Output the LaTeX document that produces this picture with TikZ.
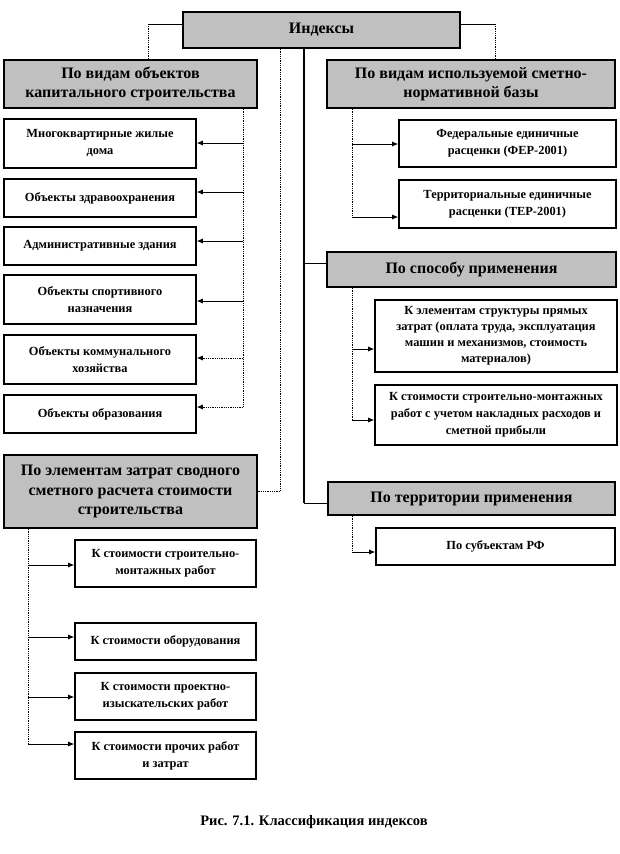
\documentclass[tikz,border=0pt]{standalone}
\usepackage{fontspec}
\setmainfont{Liberation Serif}
\usetikzlibrary{arrows.meta,shadows}
\definecolor{hdrgray}{RGB}{192,192,192}
\tikzset{
 box/.style={draw, line width=1.6pt, align=center, inner sep=1pt, fill=white,
   font=\bfseries\fontsize{12.4}{17}\selectfont,
   drop shadow={shadow xshift=1.3pt, shadow yshift=-1.3pt, fill=black!50, opacity=1}},
 hdr/.style={box, fill=hdrgray, font=\bfseries\fontsize{16}{19.5}\selectfont},
 conn/.style={line width=0.8pt},
 dconn/.style={line width=0.8pt, densely dotted},
 arr/.style={conn, -{Latex[length=6pt,width=5pt]}},
 darr/.style={dconn, -{Latex[length=6pt,width=5pt]}},
}
\begin{document}
\begin{tikzpicture}[x=1pt,y=-1pt]
\useasboundingbox (0,0) rectangle (620,854);
% top
\node[hdr, minimum width=277pt, minimum height=36pt] (idx) at (321.5,30) {Индексы};
% left header and children
\node[hdr, minimum width=253pt, minimum height=48pt] (h1) at (130.5,84) {По видам объектов\\капитального строительства};
\node[box, minimum width=192pt, minimum height=49pt] (l1) at (100,143.5) {Многоквартирные жилые\\дома};
\node[box, minimum width=192pt, minimum height=38pt] (l2) at (100,198) {Объекты здравоохранения};
\node[box, minimum width=192pt, minimum height=38pt] (l3) at (100,246) {Административные здания};
\node[box, minimum width=192pt, minimum height=49pt] (l4) at (100,299.5) {Объекты спортивного\\назначения};
\node[box, minimum width=192pt, minimum height=49pt] (l5) at (100,359.5) {Объекты коммунального\\хозяйства};
\node[box, minimum width=192pt, minimum height=38pt] (l6) at (100,414) {Объекты образования};
% right header and children
\node[hdr, minimum width=288pt, minimum height=48pt] (h2) at (471,84) {По видам используемой сметно-\\нормативной базы};
\node[box, minimum width=217pt, minimum height=47pt] (r1) at (507.5,143.5) {Федеральные единичные\\расценки (ФЕР-2001)};
\node[box, minimum width=217pt, minimum height=48pt] (r2) at (507.5,204) {Территориальные единичные\\расценки (ТЕР-2001)};
\node[hdr, minimum width=289pt, minimum height=35pt] (h3) at (471.5,269.5) {По способу применения};
\node[box, minimum width=242pt, minimum height=72pt, font=\bfseries\fontsize{12.4}{16}\selectfont] (r3) at (496,336) {К элементам структуры прямых\\затрат (оплата труда, эксплуатация\\машин и механизмов, стоимость\\материалов)};
\node[box, minimum width=242pt, minimum height=60pt] (r4) at (496,415) {К стоимости строительно-монтажных\\работ с учетом накладных расходов и\\сметной прибыли};
\node[hdr, minimum width=287pt, minimum height=33pt] (h4) at (471.5,498.5) {По территории применения};
\node[box, minimum width=239pt, minimum height=37pt] (r5) at (495.5,546.5) {По субъектам РФ};
% bottom-left header and children
\node[hdr, minimum width=253pt, minimum height=73pt] (h5) at (130.5,491.5) {По элементам затрат сводного\\сметного расчета стоимости\\строительства};
\node[box, minimum width=181pt, minimum height=47pt] (b1) at (165.5,563.5) {К стоимости строительно-\\монтажных работ};
\node[box, minimum width=181pt, minimum height=37pt] (b2) at (165.5,641.5) {К стоимости оборудования};
\node[box, minimum width=181pt, minimum height=47pt] (b3) at (165.5,696.5) {К стоимости проектно-\\изыскательских работ};
\node[box, minimum width=181pt, minimum height=47pt] (b4) at (165.5,755.5) {К стоимости прочих работ\\и затрат};
% caption
\node[font=\bfseries\fontsize{14.5}{16}\selectfont] (cap) at (314,822) {Рис. 7.1. Классификация индексов};
% coordinates
\coordinate (ya) at (0,24);
\coordinate (xa) at (148,0);
\coordinate (xb) at (495,0);
\coordinate (xc) at (280,0);
\coordinate (xd) at (304,0);
\coordinate (xl) at (243,0);
\coordinate (xr) at (352,0);
\coordinate (xq) at (28,0);
\coordinate (a1) at (243,143);
\coordinate (a2) at (243,192);
\coordinate (a3) at (243,241);
\coordinate (a4) at (243,301);
\coordinate (a5) at (243,358);
\coordinate (a6) at (243,407);
\coordinate (c1) at (352,144);
\coordinate (c2) at (352,217);
\coordinate (d1) at (352,349);
\coordinate (d2) at (352,420);
\coordinate (e1) at (352,552);
\coordinate (f1) at (28,565);
\coordinate (f2) at (28,637);
\coordinate (f3) at (28,697);
\coordinate (f4) at (28,744);
\coordinate (g1) at (304,263);
\coordinate (g2) at (304,503);
% connectors from Индексы
\draw[conn] (idx.west |- ya) -- (xa |- ya);
\draw[dconn] (xa |- ya) -- (h1.north -| xa);
\draw[conn] (idx.east |- ya) -- (xb |- ya);
\draw[dconn] (xb |- ya) -- (h2.north -| xb);
\draw[dconn] (idx.south -| xc) |- (h5.east);
\draw[line width=1.6pt] (idx.south -| xd) -- (g2);
\draw[conn] (g2) -- (h4.west |- g2);
\draw[conn] (g1) -- (h3.west |- g1);
% left trunk
\draw[dconn] (h1.south -| xl) -- (a6);
\draw[arr] (a1) -- (l1.east |- a1);
\draw[arr] (a2) -- (l2.east |- a2);
\draw[arr] (a3) -- (l3.east |- a3);
\draw[arr] (a4) -- (l4.east |- a4);
\draw[darr] (a5) -- (l5.east |- a5);
\draw[darr] (a6) -- (l6.east |- a6);
% right trunks
\draw[dconn] (h2.south -| xr) -- (c2);
\draw[arr] (c1) -- (r1.west |- c1);
\draw[arr] (c2) -- (r2.west |- c2);
\draw[dconn] (h3.south -| xr) -- (d2);
\draw[arr] (d1) -- (r3.west |- d1);
\draw[arr] (d2) -- (r4.west |- d2);
\draw[dconn] (h4.south -| xr) -- (e1);
\draw[arr] (e1) -- (r5.west |- e1);
% bottom-left trunk
\draw[dconn] (h5.south -| xq) -- (f4);
\draw[arr] (f1) -- (b1.west |- f1);
\draw[arr] (f2) -- (b2.west |- f2);
\draw[arr] (f3) -- (b3.west |- f3);
\draw[arr] (f4) -- (b4.west |- f4);
\end{tikzpicture}
\end{document}
